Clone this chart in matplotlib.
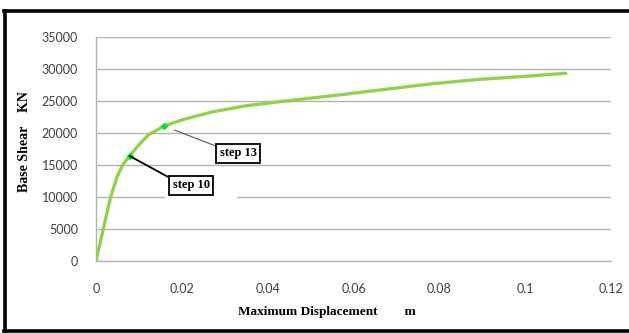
import matplotlib
matplotlib.use("Agg")
import matplotlib.pyplot as plt
from matplotlib.patches import Rectangle
from matplotlib.lines import Line2D

# pushover curve
disp = [0, 0.0017, 0.0034, 0.0050, 0.0062, 0.00785, 0.0098, 0.0122, 0.01585,
        0.0205, 0.0273, 0.0351, 0.0429, 0.0545, 0.0662, 0.0778, 0.0895,
        0.1011, 0.1095]
shear = [0, 5000, 10000, 13300, 15000, 16400, 18000, 19700, 21090,
         22140, 23330, 24270, 24900, 25780, 26720, 27660, 28390,
         28910, 29330]

step_x = [0.00785, 0.01585]
step_y = [16400, 21090]
step_labels = ["step 10", "step 13"]

xticks = [0, 0.02, 0.04, 0.06, 0.08, 0.1, 0.12]
xtick_labels = ["0", "0.02", "0.04", "0.06", "0.08", "0.1", "0.12"]
yticks = [0, 5000, 10000, 15000, 20000, 25000, 30000, 35000]

W, H = 629, 333
fig = plt.figure(figsize=(W / 100, H / 100), dpi=100)
ax = fig.add_axes([96 / W, 1 - 261 / H, (611 - 96) / W, (261 - 37) / H])

ax.set_xlim(0, 0.12)
ax.set_ylim(0, 35000)
ax.set_xticks(xticks)
ax.set_xticklabels(xtick_labels)
ax.set_yticks(yticks)
ax.grid(axis="y", color="#b3b3b3", linewidth=1.0, zorder=0)
ax.set_axisbelow(True)
for s in ["top", "right"]:
    ax.spines[s].set_visible(False)
for s in ["left", "bottom"]:
    ax.spines[s].set_color("#b3b3b3")
    ax.spines[s].set_linewidth(1.0)
ax.tick_params(length=0, labelsize=9, labelcolor="#404040")
ax.tick_params(axis="y", pad=13)
ax.tick_params(axis="x", pad=16)
for lab in ax.get_xticklabels() + ax.get_yticklabels():
    lab.set_family("Lato")

# white backdrop behind step 10 label (breaks the 10000 gridline)
ax.add_patch(Rectangle((0.0161, 9650), 0.0168, 700, facecolor="white",
                       edgecolor="none", zorder=1))

ax.plot(disp, shear, color="#92d050", linewidth=2.4, zorder=3,
        solid_capstyle="round", solid_joinstyle="round")
ax.plot(step_x, step_y, linestyle="none", marker="D", markersize=3,
        color="#00e632", zorder=4)

box = dict(boxstyle="square,pad=0.28", facecolor="white", edgecolor="black",
           linewidth=1.3)
ax.annotate(step_labels[0], xy=(step_x[0], step_y[0]), xytext=(0.0222, 11800),
            ha="center", va="center", family="Liberation Serif",
            fontweight="bold", fontsize=9, bbox=box, zorder=5,
            arrowprops=dict(arrowstyle="-", color="black", linewidth=1.3,
                            relpos=(0, 1), shrinkA=0, shrinkB=0))
ax.annotate(step_labels[1], xy=(step_x[1], step_y[1]), xytext=(0.0331, 16800),
            ha="center", va="center", family="Liberation Serif",
            fontweight="bold", fontsize=9, bbox=box, zorder=5,
            arrowprops=dict(arrowstyle="-", color="#555555", linewidth=0.8,
                            relpos=(0, 1), shrinkA=0, shrinkB=8))

fig.text(238 / W, 1 - 312 / H, "Maximum Displacement        m",
         family="Liberation Serif", fontweight="bold", fontsize=9.5,
         ha="left", va="center")
fig.text(25 / W, 1 - 142 / H, "Base Shear    KN", family="Liberation Serif",
         fontweight="bold", fontsize=10, rotation=90, ha="center",
         va="center")

# black frame around the chart (no right edge visible)
fig.add_artist(Line2D([5 / W, 5 / W], [1 - 10.5 / H, 1 - 331 / H],
                      color="black", linewidth=2.6))
fig.add_artist(Line2D([4 / W, 1], [1 - 10.5 / H, 1 - 10.5 / H],
                      color="black", linewidth=2.6))
fig.add_artist(Line2D([4 / W, 1], [1 - 331 / H, 1 - 331 / H],
                      color="black", linewidth=2.6))

fig.savefig("out.png", dpi=100)
